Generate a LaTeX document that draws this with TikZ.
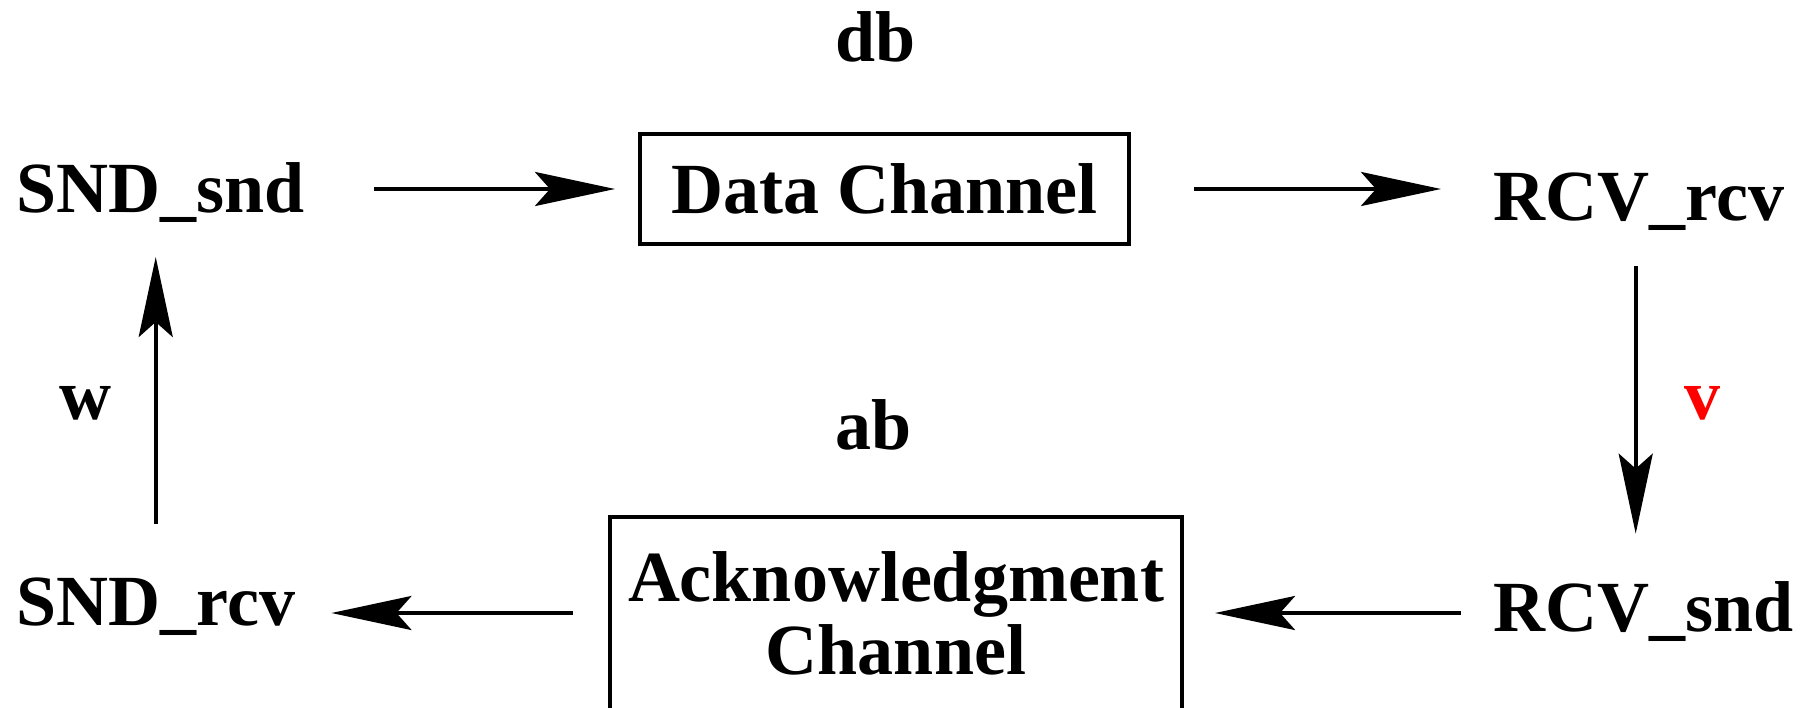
\documentclass[tikz,border=0pt]{standalone}
\usepackage{fontspec}
\setmainfont{Liberation Serif}
\usetikzlibrary{arrows.meta}
\begin{document}
\begin{tikzpicture}[x=0.5pt,y=-0.5pt,
  lbl/.style={inner sep=0pt,font=\fontsize{36pt}{36.5pt}\selectfont\bfseries},
  boxnode/.style={lbl,draw,line width=2pt,align=center},
  arr/.style={line width=2pt,-{Stealth[length=40pt,width=17pt,inset=7.5pt]}}]
\useasboundingbox (0,0) rectangle (1815,707);
% labels
\node[lbl,anchor=base west] (snd) at (16,212) {SND\_snd};
\node[lbl,anchor=base west] (rcvr) at (1493,220) {RCV\_rcv};
\node[lbl,anchor=base west] (sndr) at (16,625) {SND\_rcv};
\node[lbl,anchor=base west] (rcvs) at (1493,631) {RCV\_snd};
\node[boxnode,minimum width=244.5pt,minimum height=55pt] (data) at (884.5,189) {Data Channel};
\node[boxnode,minimum width=286pt,minimum height=96.5pt] (ack) at (896,613) {Acknowledgment\\Channel};
\node[lbl,anchor=base] (db) at (876,61) {db};
\node[lbl,anchor=base] (ab) at (874,449) {ab};
\node[lbl,anchor=base] (w) at (85,419) {w};
\node[lbl,anchor=base,text=red] (v) at (1702,419) {v};
% connectors
\draw[arr,shorten <=34.5pt,shorten >=11.5pt] (snd.east |- data.west) -- (data.west);
\draw[arr,shorten <=31.5pt,shorten >=26pt] (data.east) -- (rcvr.west |- data.east);
\draw[arr,shorten <=23pt,shorten >=23.5pt] ([xshift=-1.5pt]rcvr.base) -- ([xshift=-1.5pt]rcvr.base |- rcvs.north);
\draw[arr,shorten <=16pt,shorten >=15.5pt] (rcvs.west |- ack.east) -- (ack.east);
\draw[arr,shorten <=17.5pt,shorten >=18pt] (ack.west) -- (sndr.east |- ack.west);
\draw[arr,shorten <=26.5pt,shorten >=22.5pt] (sndr.north) -- (sndr.north |- snd.base);
\end{tikzpicture}
\end{document}
